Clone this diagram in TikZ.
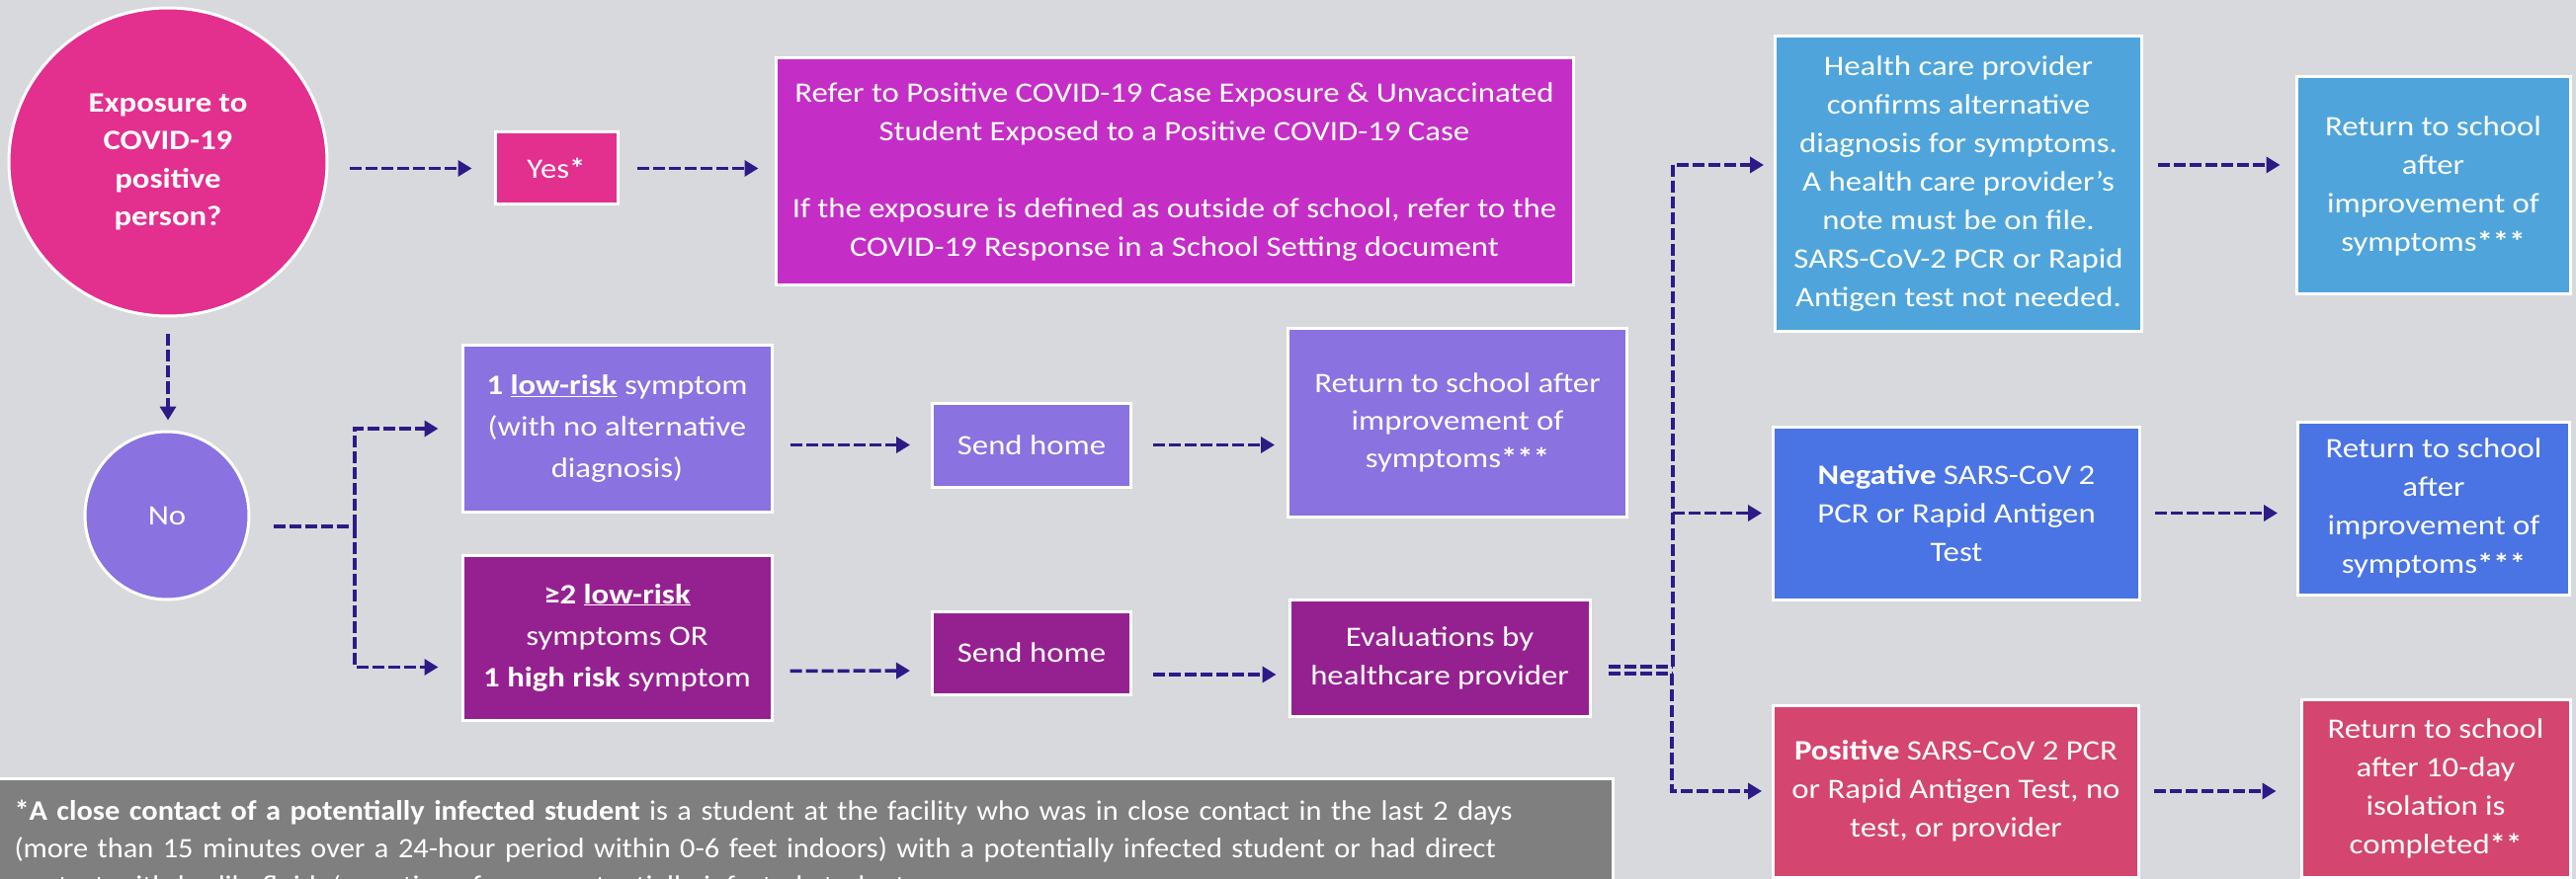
\documentclass[tikz,border=0pt]{standalone}
\usepackage{fontspec}
\setmainfont{Carlito}[FakeStretch=1.15]
\newfontfamily\notefont{Carlito}[FakeStretch=1.065]
\usetikzlibrary{shapes.geometric,arrows.meta,positioning,calc}

\definecolor{bgGrey}{RGB}{216,217,221}
\definecolor{hotPink}{RGB}{227,47,142}
\definecolor{referMagenta}{RGB}{196,46,198}
\definecolor{lavender}{RGB}{138,114,224}
\definecolor{plum}{RGB}{149,33,144}
\definecolor{skyBlue}{RGB}{79,165,219}
\definecolor{royalBlue}{RGB}{74,116,228}
\definecolor{rose}{RGB}{212,70,111}
\definecolor{noteGrey}{RGB}{127,127,127}
\definecolor{arrowInk}{RGB}{46,26,135}

\newcommand{\stars}[1]{\textbf{#1}}

\tikzset{
  box/.style={draw=white, line width=3pt, text=white, align=center, inner sep=0pt,
    font=\fontsize{28.5}{39}\selectfont},
  bubble/.style={box, ellipse},
  link/.style={draw=arrowInk, line width=3.5pt, dash pattern=on 12pt off 4pt},
  flow/.style={link, -{Triangle[length=14pt,width=16pt]}, shorten <=18pt, shorten >=18pt}
}

\begin{document}
\begin{tikzpicture}[x=1pt, y=-1pt]
  \useasboundingbox (0,0) rectangle (2607,890);
  \clip (0,0) rectangle (2607,890);
  \fill[bgGrey] (0,0) rectangle (2607,890);

  % Question
  \node[bubble, fill=hotPink, minimum width=322pt, minimum height=312pt,
    font=\bfseries\fontsize{28.5}{38.5}\selectfont] (expo) at (170,164)
    {Exposure to\\COVID-19\\positive\\person?};
  \node[box, fill=hotPink, minimum width=124pt, minimum height=73pt] (yes) at (563,170.5) {Yes\stars{*}};
  \node[box, fill=referMagenta, minimum width=807pt, minimum height=230pt] (refer) at (1188.5,174)
    {Refer to Positive COVID-19 Case Exposure \& Unvaccinated\\
     Student Exposed to a Positive COVID-19 Case\\[39pt]
     If the exposure is defined as outside of school, refer to the\\
     COVID-19 Response in a School Setting document};
  \node[bubble, fill=lavender, minimum width=166pt, minimum height=170pt] (no) at (169,522) {No};

  % Symptoms
  \node[box, fill=lavender, minimum width=313pt, minimum height=168pt,
    font=\fontsize{28.5}{42}\selectfont] (low) at (624.5,434)
    {\textbf{1 \underline{low-risk}} symptom\\(with no alternative\\diagnosis)};
  \node[box, fill=plum, minimum width=313pt, minimum height=167pt,
    font=\fontsize{28.5}{42}\selectfont] (high) at (624.5,645.5)
    {\textbf{≥2 \underline{low-risk}}\\symptoms OR\\\textbf{1 high risk} symptom};
  \node[box, fill=lavender, minimum width=201pt, minimum height=85pt] (home1) at (1044,450.5) {Send home};
  \node[box, fill=plum, minimum width=201pt, minimum height=84pt] (home2) at (1044,661) {Send home};
  \node[box, fill=lavender, minimum width=343pt, minimum height=190pt,
    font=\fontsize{28.5}{38}\selectfont] (back1) at (1475,428)
    {Return to school after\\improvement of\\symptoms\stars{***}};
  \node[box, fill=plum, minimum width=304pt, minimum height=118pt] (eval) at (1457,666)
    {Evaluations by\\healthcare provider};

  % Outcomes
  \node[box, fill=skyBlue, minimum width=371pt, minimum height=299pt] (alt) at (1982,186.5)
    {Health care provider\\confirms alternative\\diagnosis for symptoms.\\A health care provider’s\\note must be on file.\\SARS-CoV-2 PCR or Rapid\\Antigen test not needed.};
  \node[box, fill=skyBlue, minimum width=277pt, minimum height=220pt] (backA) at (2462.5,188)
    {Return to school\\after\\improvement of\\symptoms\stars{***}};
  \node[box, fill=royalBlue, minimum width=371pt, minimum height=175pt] (neg) at (1980,519.5)
    {\textbf{Negative} SARS-CoV 2\\PCR or Rapid Antigen\\Test};
  \node[box, fill=royalBlue, minimum width=275pt, minimum height=175pt] (backB) at (2463,514.5)
    {Return to school\\after\\improvement of\\symptoms\stars{***}};
  \node[box, fill=rose, minimum width=370pt, minimum height=174pt] (pos) at (1979.5,801)
    {\textbf{Positive} SARS-CoV 2 PCR\\or Rapid Antigen Test, no\\test, or provider};
  \node[box, fill=rose, minimum width=272pt, minimum height=180pt] (backC) at (2465,798)
    {Return to school\\after 10-day\\isolation is\\completed\stars{**}};

  % Footnote
  \node[anchor=north west, fill=noteGrey, draw=white, line width=3pt, text=white, align=left,
    inner xsep=16pt, inner ysep=22pt, text width=1602pt, font=\notefont\fontsize{28.5}{38}\selectfont]
    (note) at (-3,787)
    {\textbf{*A close contact of a potentially infected student} is a student at the facility who was in close contact in the last 2 days\\
     (more than 15 minutes over a 24-hour period within 0-6 feet indoors) with a potentially infected student or had direct\\
     contact with bodily fluids/secretions from a potentially infected student.};

  % Arrows
  \draw[flow, shorten <=21pt, shorten >=22pt] (expo.east |- yes.west) -- (yes.west);
  \draw[flow, shorten >=16pt] (yes.east) -- (yes.east -| refer.west);
  \draw[flow, shorten <=17pt, shorten >=10pt] (expo.south) -- (expo.south |- no.north);

  \coordinate (fork) at (359,533);
  \draw[link, shorten <=23pt] (no.east |- fork) -- (fork);
  \draw[flow, shorten <=0pt, shorten >=23pt] (fork) |- (low.west);
  \draw[flow, shorten <=0pt, shorten >=23pt] (fork) |- ($(high.west)+(0,30)$);

  \draw[flow, shorten <=17pt, shorten >=21pt] (low.east |- home1.west) -- (home1.west);
  \draw[flow, shorten <=21pt, shorten >=12pt] (home1.east) -- (home1.east -| back1.west);
  \draw[flow, shorten <=17pt, shorten >=21pt] ($(high.east)+(0,34)$) -- ($(home2.west)+(0,18)$);
  \draw[flow, shorten <=21pt, shorten >=12pt] ($(home2.east)+(0,22)$) -- ($(eval.west)+(0,17)$);

  \coordinate (split) at (1693,675);
  \coordinate (split2) at (1692,682);
  \draw[link, shorten <=17pt] ($(eval.east)+(0,9)$) -- (split);
  \draw[link, shorten <=17pt] ($(eval.east)+(0,16)$) -- (split2);
  \draw[flow, shorten <=0pt, shorten >=10pt] (split) |- ($(alt.west)+(0,-19.5)$);
  \draw[flow, shorten <=0pt, shorten >=10pt] (split |- neg.west) -- (neg.west);
  \draw[flow, shorten <=0pt, shorten >=10pt] (split2) |- (pos.west);

  \draw[flow, shorten <=15pt, shorten >=15pt] ($(alt.east)+(0,-19.5)$) -- ($(backA.west)+(0,-21)$);
  \draw[flow, shorten <=14pt, shorten >=19pt] (neg.east) -- (neg.east -| backB.west);
  \draw[flow, shorten <=14pt, shorten >=24pt] (pos.east) -- (pos.east -| backC.west);
\end{tikzpicture}
\end{document}
